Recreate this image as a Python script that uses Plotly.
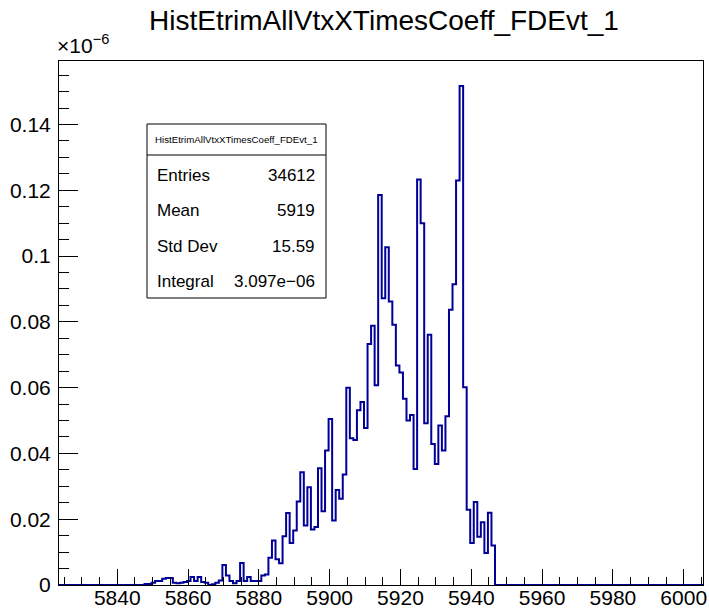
import plotly.graph_objects as go

# Histogram contents (units of 1e-6), one value per bin of width 1
HIST_NAME = "HistEtrimAllVtxXTimesCoeff_FDEvt_1"
FIRST_EDGE = 5845.7
BIN_WIDTH = 1.0
bin_values = [
    0.0, 0.0, 0.0003, 0.0003, 0.0007, 0.0012, 0.0012, 0.0019, 0.0021, 0.0021,   # 5845-5854
    0.0007, 0.0005, 0.0007, 0.0009, 0.0012, 0.0024, 0.0012, 0.0024, 0.0009, 0.0007,  # 5855-5864
    0.0, 0.0002, 0.0007, 0.0014, 0.0061, 0.0029, 0.0012, 0.0005, 0.0012, 0.0067,  # 5865-5874
    0.0012, 0.0024, 0.0012, 0.0012, 0.0012, 0.0029, 0.0032, 0.0083, 0.0135, 0.0078,  # 5875-5884
    0.0066, 0.0148, 0.0219, 0.0128, 0.0166, 0.0254, 0.0343, 0.0181, 0.0297, 0.0169,  # 5885-5894
    0.0176, 0.0355, 0.0224, 0.0409, 0.0505, 0.0196, 0.0289, 0.0262, 0.0336, 0.0600,  # 5895-5904
    0.0446, 0.0441, 0.0531, 0.0556, 0.0477, 0.0733, 0.0788, 0.0607, 0.1186, 0.0872,  # 5905-5914
    0.1027, 0.0862, 0.0791, 0.0667, 0.0646, 0.0566, 0.0500, 0.0517, 0.0353, 0.1233,  # 5915-5924
    0.1100, 0.0492, 0.0761, 0.0429, 0.0368, 0.0485, 0.0409, 0.0513, 0.0837, 0.0914,  # 5925-5934
    0.1230, 0.1517, 0.0601, 0.0229, 0.0128, 0.0252, 0.0147, 0.0191, 0.0097, 0.0220,  # 5935-5944
    0.0120, 0.0,                                                                    # 5945-5946
]

X_RANGE = [5823.55, 6005.45]
Y_RANGE = [0.0, 0.1593]
x_tick_values = [5840, 5860, 5880, 5900, 5920, 5940, 5960, 5980, 6000]
y_tick_values = [0, 0.02, 0.04, 0.06, 0.08, 0.1, 0.12, 0.14]
y_tick_labels = ["0", "0.02", "0.04", "0.06", "0.08", "0.1", "0.12", "0.14"]

stats_rows = [("Entries", "34612"), ("Mean", "5919"), ("Std Dev", "15.59"),
              ("Integral", "3.097e\u221206")]

FONT = "Liberation Sans, Arial, Helvetica, sans-serif"
W, H = 709, 612
ML, MR, MT, MB = 59, 6, 61, 27
PW, PH = W - ML - MR, H - MT - MB


def px(xpix):
    return (xpix - ML) / PW


def py(ypix):
    return (H - MB - ypix) / PH


# step outline: zero from the left edge, bins, then zero to the right edge
edges = [FIRST_EDGE + i * BIN_WIDTH for i in range(len(bin_values) + 1)]
xs = [X_RANGE[0]] + edges + [X_RANGE[1]]
ys = [0.0] + list(bin_values) + [0.0, 0.0]

fig = go.Figure()
fig.add_trace(go.Scatter(
    x=xs, y=ys, mode="lines", line=dict(shape="hv", color="#000099", width=2),
    hoverinfo="skip", showlegend=False, cliponaxis=False,
))

axis_common = dict(
    showline=True, linecolor="black", linewidth=1, mirror=True, automargin=False,
    showgrid=False, zeroline=False, ticks="inside", tickcolor="black",
    tickfont=dict(family=FONT, size=21, color="black"),
)
fig.update_xaxes(
    range=X_RANGE, tickvals=x_tick_values, ticklen=16, tickwidth=1,
    ticklabelstandoff=-6,
    minor=dict(ticks="inside", ticklen=8, dtick=5, tick0=5840, tickcolor="black"),
    **axis_common,
)
fig.update_yaxes(
    range=Y_RANGE, tickvals=y_tick_values, ticktext=y_tick_labels,
    ticklen=19, tickwidth=1, ticklabelstandoff=3,
    minor=dict(ticks="inside", ticklen=10, dtick=0.005, tick0=0, tickcolor="black"),
    **axis_common,
)

shapes = []
annotations = []

# statistics box
bx0, bx1, by0, by1, bdiv = 147, 326, 124, 298, 155
shapes.append(dict(type="rect", xref="paper", yref="paper",
                   x0=px(bx0), x1=px(bx1), y0=py(by1), y1=py(by0),
                   line=dict(color="black", width=1), fillcolor="white", layer="above"))
shapes.append(dict(type="line", xref="paper", yref="paper",
                   x0=px(bx0), x1=px(bx1), y0=py(bdiv), y1=py(bdiv),
                   line=dict(color="black", width=1), layer="above"))
annotations.append(dict(text=HIST_NAME, xref="paper", yref="paper",
                        x=px((bx0 + bx1) / 2), y=py((by0 + bdiv) / 2),
                        xanchor="center", yanchor="middle", showarrow=False,
                        font=dict(family=FONT, size=9.7, color="black")))
row_y = [175, 210.5, 246, 281]
for (label, value), ry in zip(stats_rows, row_y):
    annotations.append(dict(text=label, xref="paper", yref="paper",
                            x=px(155), y=py(ry), xanchor="left", yanchor="middle",
                            showarrow=False, font=dict(family=FONT, size=17, color="black")))
    annotations.append(dict(text=value, xref="paper", yref="paper",
                            x=px(317), y=py(ry), xanchor="right", yanchor="middle",
                            showarrow=False, font=dict(family=FONT, size=17, color="black")))

# exponent of the y axis
annotations.append(dict(text="\u00d710<sup>\u22126</sup>", xref="paper", yref="paper",
                        x=px(55), y=py(59), xanchor="left", yanchor="bottom",
                        showarrow=False, font=dict(family=FONT, size=21, color="black")))

fig.update_layout(
    width=W, height=H,
    margin=dict(l=ML, r=MR, t=MT, b=MB, pad=0, autoexpand=False),
    paper_bgcolor="white", plot_bgcolor="white",
    title=dict(text=HIST_NAME, x=384 / W, y=1 - 20 / H, xanchor="center", yanchor="middle",
               font=dict(family=FONT, size=28, color="black")),
    shapes=shapes, annotations=annotations,
)

fig.write_html("out.html")
